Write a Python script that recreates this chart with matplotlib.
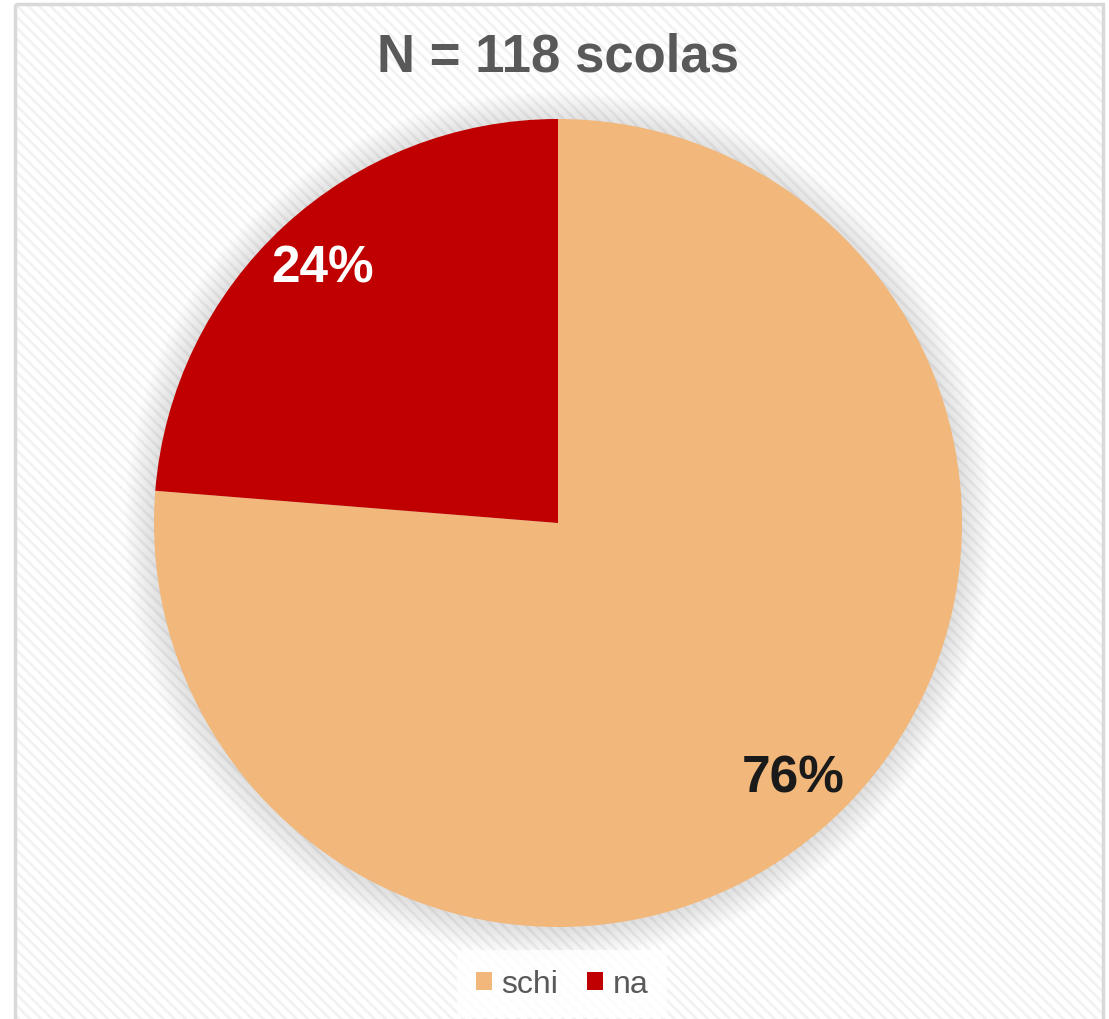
import matplotlib
matplotlib.use("Agg")
import matplotlib.pyplot as plt
from matplotlib.patches import Rectangle, Circle
import numpy as np

categories = ["schi", "na"]
counts = [90, 28]
pct_labels = ["76%", "24%"]
colors = ["#F2B77A", "#C00000"]
label_colors = ["#1A1A1A", "#FFFFFF"]
title = "N = 118 scolas"

plt.rcParams['font.family'] = ['Liberation Sans', 'DejaVu Sans']
plt.rcParams['hatch.linewidth'] = 2.0

W, H = 1109, 1020
fig = plt.figure(figsize=(W/100, H/100), dpi=100)
fig.patch.set_facecolor('white')

# background frame with diagonal hatch
bg = fig.add_axes([0, 0, 1, 1])
bg.set_xlim(0, W); bg.set_ylim(H, 0); bg.axis('off')
bg.add_patch(Rectangle((15, 5), 1088, 1030, facecolor='white', edgecolor='#F2F2F2', lw=0,
                       hatch='\\\\\\', zorder=1))
bg.add_patch(Rectangle((15, 5), 1088, 1030, facecolor='none', edgecolor='#D9D9D9', lw=2.5, zorder=2))

cx, cy, R = 558, 524, 404
ax = fig.add_axes([(cx-R)/W, (H-cy-R)/H, 2*R/W, 2*R/H])

wedges, texts = ax.pie(counts, colors=colors, startangle=90, counterclock=False,
                       radius=1, wedgeprops=dict(linewidth=0), labels=None)
ax.set_xlim(-1, 1); ax.set_ylim(-1, 1); ax.set_aspect('equal'); ax.axis('off')
for w in wedges:
    w.set_zorder(2)

# soft shadow
for i in range(30):
    r = 1.0 + 0.0025*(i+1)
    ax.add_patch(Circle((0.0, -0.004), r, facecolor='#000000', alpha=0.005,
                        edgecolor='none', zorder=0, clip_on=False))

total = sum(counts)
ang = 90.0
for c, lab, lc in zip(counts, pct_labels, label_colors):
    span = 360.0*c/total
    mid = np.deg2rad(ang - span/2)
    ang -= span
    d = 0.86
    ax.text(d*np.cos(mid), d*np.sin(mid), lab, ha='center', va='center',
            fontsize=37, fontweight='bold', color=lc, zorder=5)

fig.text(558/W, 1 - 58/H, title, ha='center', va='center', fontsize=38,
         fontweight='bold', color='#595959')

handles = [Rectangle((0, 0), 1, 1, facecolor=c, edgecolor='none') for c in colors]
leg = fig.legend(handles, categories, loc='center', bbox_to_anchor=(562/W, 1 - 985/H),
                 ncol=2, frameon=True, fontsize=23, handlelength=0.5, handleheight=0.5,
                 handletextpad=0.3, columnspacing=0.9, borderpad=0.4)
leg.get_frame().set_facecolor('white')
leg.get_frame().set_edgecolor('none')
leg.get_frame().set_alpha(0.8)
leg.get_frame().set_boxstyle('square', pad=0.2)
for t in leg.get_texts():
    t.set_color('#595959')

fig.savefig('out.png', dpi=100)
